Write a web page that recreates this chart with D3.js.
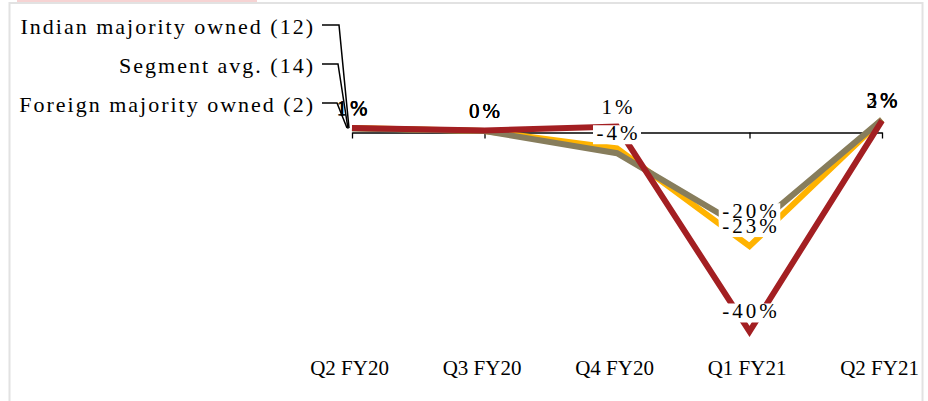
<!DOCTYPE html>
<html>
<head>
<meta charset="utf-8">
<script src="https://cdn.jsdelivr.net/npm/d3@7/dist/d3.min.js"></script>
<style>
  html, body { margin: 0; padding: 0; background: #ffffff; }
  svg { display: block; }
  text { font-family: "Liberation Serif", "DejaVu Serif", serif; fill: #000; }
</style>
</head>
<body>
<svg id="chart" width="928" height="401"></svg>
<script>
// Quarterly growth (%) by ownership group
const categories = ["Q2 FY20", "Q3 FY20", "Q4 FY20", "Q1 FY21", "Q2 FY21"];
const seriesNames = ["Indian majority owned (12)", "Segment avg. (14)", "Foreign majority owned (2)"];
const indianValues = [0.9, 0.3, -3.2, -23, 2.6];
const segmentValues = [0.8, 0.3, -4.2, -20, 2.6];
const foreignValues = [0.9, 0.4, 1.2, -40.3, 2.4];
// which points carry a value label (the Q4 Indian label sits under the segment label)
const indianLabelShown = [true, true, false, true, true];
const segmentLabelShown = [true, true, true, true, true];
const foreignLabelShown = [true, true, true, true, true];
const seriesColors = ["#FFB300", "#877D5C", "#A31F22"];

const series = [
  { name: seriesNames[0], values: indianValues, shown: indianLabelShown, color: seriesColors[0] },
  { name: seriesNames[1], values: segmentValues, shown: segmentLabelShown, color: seriesColors[1] },
  { name: seriesNames[2], values: foreignValues, shown: foreignLabelShown, color: seriesColors[2] }
];

const svg = d3.select("#chart");

// frame and the highlight strip of the heading above it
svg.append("rect").attr("x", 17).attr("y", 0).attr("width", 240).attr("height", 2)
  .attr("fill", "#F6D3D3");
svg.append("rect").attr("x", 9.5).attr("y", 3).attr("width", 913).attr("height", 420)
  .attr("fill", "none").attr("stroke", "#E2E2E2").attr("stroke-width", 2);

const x = d3.scalePoint().domain(categories).range([352, 882]);
const y = d3.scaleLinear().domain([-40, 0]).range([330, 132.5]);

// category axis crossing at zero
const axis = svg.append("g")
  .attr("transform", `translate(0,${y(0)})`)
  .call(d3.axisBottom(x).tickSize(6).tickSizeOuter(0).tickFormat(""));
axis.select(".domain").attr("stroke", "#000").attr("stroke-width", 1.3);
axis.selectAll(".tick line").attr("stroke", "#000").attr("stroke-width", 1.3);

// category labels along the bottom
const labelAxis = svg.append("g")
  .attr("transform", "translate(-3,360)")
  .call(d3.axisBottom(x).tickSize(0).tickPadding(0));
labelAxis.select(".domain").remove();
labelAxis.selectAll(".tick text")
  .attr("dy", "0.71em")
  .style("font-family", '"Liberation Serif", serif')
  .style("font-size", "21px")
  .attr("fill", "#000");

// lines
const line = d3.line().x((d, i) => x(categories[i])).y(d => y(d));
series.forEach(s => {
  svg.append("path")
    .datum(s.values)
    .attr("d", line)
    .attr("fill", "none")
    .attr("stroke", s.color)
    .attr("stroke-width", 6)
    .attr("stroke-linejoin", "miter")
    .attr("stroke-miterlimit", 10)
    .attr("stroke-linecap", "butt");
});

// value labels above each point: white boxes first, then all texts on top
const fmt = v => Math.round(v).toString() + "%";
const labelData = [];
series.forEach(s => {
  s.values.forEach((v, i) => {
    if (s.shown[i]) labelData.push({ cx: x(categories[i]), by: y(v) - 13, text: fmt(v) });
  });
});
const boxLayer = svg.append("g");
const textLayer = svg.append("g");
labelData.forEach(d => {
  const t = textLayer.append("text")
    .attr("x", d.cx + 1.5)
    .attr("y", d.by)
    .attr("text-anchor", "middle")
    .style("font-size", "21px")
    .style("letter-spacing", "3px")
    .text(d.text);
  const w = t.node().getComputedTextLength();
  boxLayer.append("rect")
    .attr("x", d.cx - w / 2 - 2)
    .attr("y", d.by - 15)
    .attr("width", w + 4)
    .attr("height", 19)
    .attr("fill", "#fff");
});

// series names with leader lines to the first point
const nameBaselines = [34, 73, 112];
series.forEach((s, k) => {
  const by = nameBaselines[k];
  svg.append("text")
    .attr("x", 315)
    .attr("y", by)
    .attr("text-anchor", "end")
    .style("font-size", "22px")
    .style("letter-spacing", "2px")
    .text(s.name);
  const ly = by - 9;
  svg.append("path")
    .attr("d", d3.line()([
      [322, ly], [339 - k, ly],
      [x(categories[0]) - 3 - k, y(s.values[0])]
    ]))
    .attr("fill", "none")
    .attr("stroke", "#000")
    .attr("stroke-width", 1.5);
});
</script>
</body>
</html>
